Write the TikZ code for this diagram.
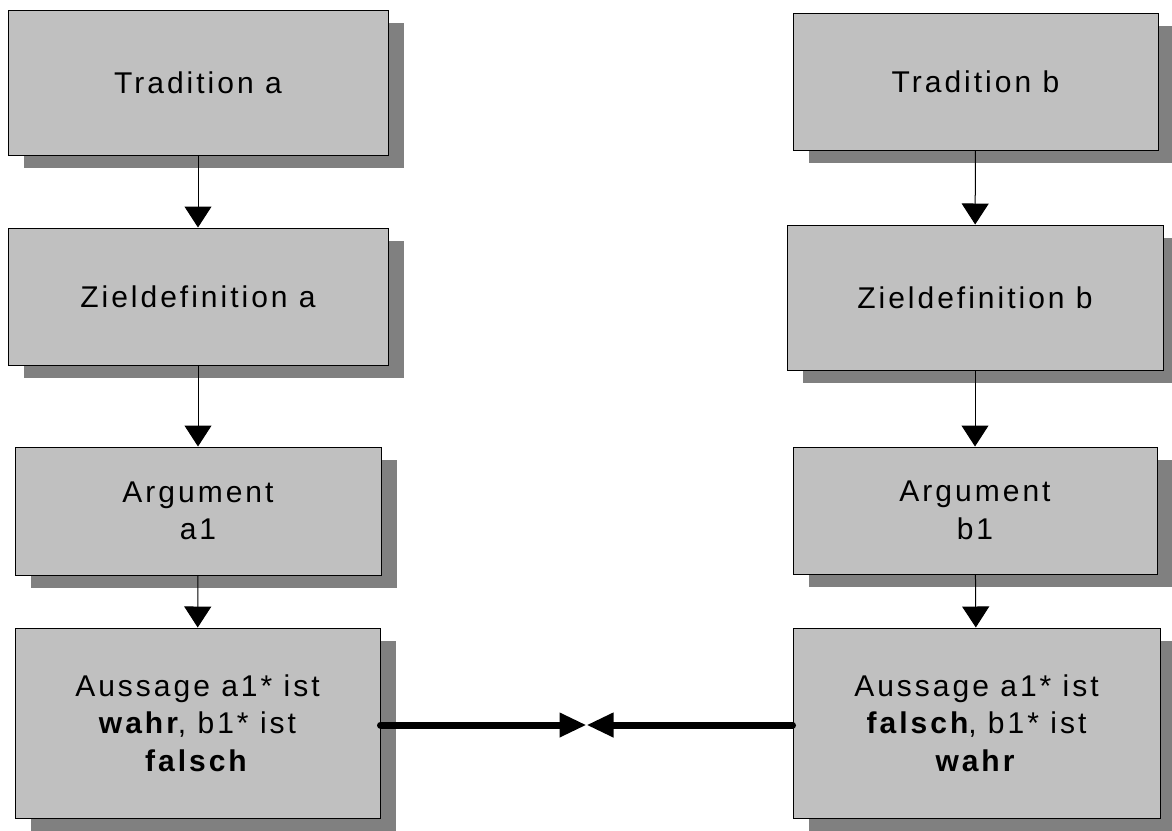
\documentclass[tikz,border=0pt]{standalone}
\usepackage{xcolor}
\usepackage{fontspec}
\setmainfont{Liberation Sans}[LetterSpace=10]
\usetikzlibrary{arrows.meta,shadows,calc}
\definecolor{boxgray}{HTML}{C0C0C0}
\definecolor{shadowgray}{HTML}{808080}

\begin{document}
\begin{tikzpicture}[x=1pt,y=-1pt,
    box/.style={draw,line width=1pt,fill=boxgray,align=center,
      font=\fontsize{30}{37.5}\selectfont,
      drop shadow={shadow xshift=16pt,shadow yshift=-13pt,fill=shadowgray,opacity=1}},
    link/.style={line width=1pt,-{Triangle[width=27pt,length=21pt]}},
    clash/.style={line width=7pt,line cap=round,-{Triangle[width=23pt,length=27pt]}}]
    \useasboundingbox (0,0) rectangle (1172,830);
    % left column
    \node[box,minimum width=380pt,minimum height=145pt] (ta) at (198,82.5) {Tradition a};
    \node[box,minimum width=380pt,minimum height=137pt] (za) at (198,296.5) {Zieldefinition a};
    \node[box,minimum width=366pt,minimum height=128pt] (aa) at (198,511) {Argument\\a1};
    \node[box,minimum width=365pt,minimum height=190pt] (sa) at (197.5,723)
        {Aussage a1* ist\\\textbf{wahr}, b1* ist\\\textbf{falsch}};
    % right column
    \node[box,minimum width=365pt,minimum height=137pt] (tb) at (975.5,81.5) {Tradition b};
    \node[box,minimum width=376pt,minimum height=145pt] (zb) at (975,297.5) {Zieldefinition b};
    \node[box,minimum width=364pt,minimum height=127pt] (ab) at (975,510.5) {Argument\\b1};
    \node[box,minimum width=367pt,minimum height=190pt] (sb) at (976.5,723)
        {Aussage a1* ist\\\textbf{falsch}, b1* ist\\\textbf{wahr}};
    \draw[link] (ta) -- (za);
    \draw[link] (za) -- (aa);
    \draw[link] (aa) -- (sa);
    \draw[link] (tb) -- (zb);
    \draw[link] (zb) -- (ab);
    \draw[link] (ab) -- (sb);
    \coordinate (m) at ($(sa.east)!0.5!(sb.west)+(0,2)$);
    \draw[clash] (sa.east |- m) -- (m);
    \draw[clash] (sb.west |- m) -- (m);
\end{tikzpicture}
\end{document}
